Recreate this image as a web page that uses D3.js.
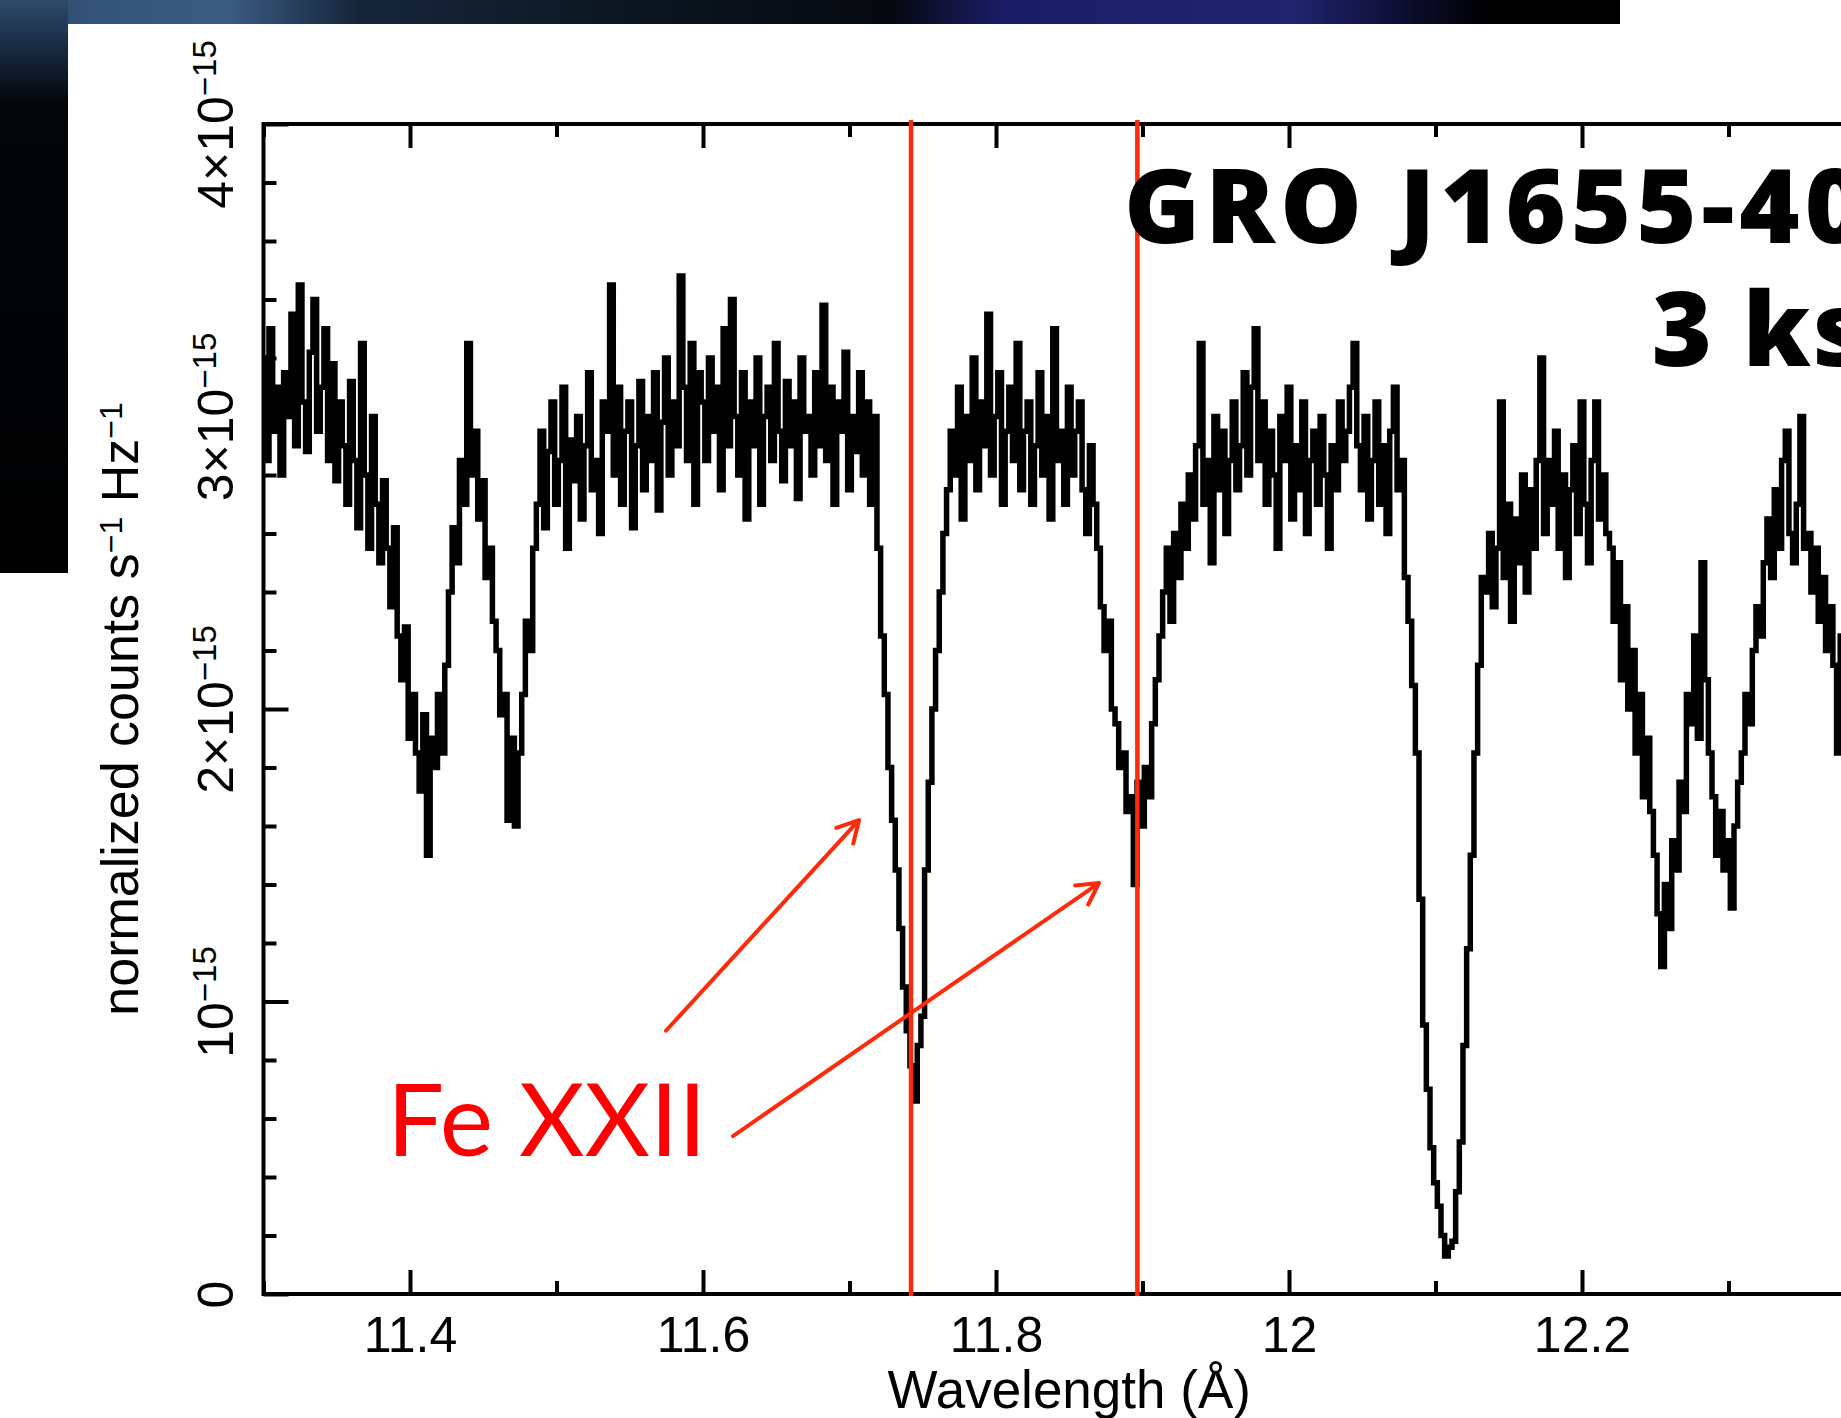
<!DOCTYPE html>
<html>
<head>
<meta charset="utf-8">
<script src="https://d3js.org/d3.v7.min.js" charset="utf-8"></script>
<title>GRO J1655-40 Fe XXII</title>
<style>
  body { margin: 0; background: #fff; }
  svg { display: block; }
</style>
</head>
<body>
<script>
var width = 1841, height = 1418;

// spectrum in units of 1e-15, one value per 0.0025 A bin starting at 11.300 A
var binStart = 11.3, binWidth = 0.0025;
var flux = [
  3.20, 2.85, 3.30, 2.95, 3.10, 2.80, 3.15, 3.00, 3.35, 2.90, 3.45, 3.05, 2.88, 3.22, 3.40, 2.95, 3.10, 3.30, 2.85, 3.18,
  2.78, 3.05, 2.90, 2.70, 3.12, 2.85, 2.62, 3.25, 2.80, 2.55, 3.00, 2.70, 2.50, 2.78,
  2.55, 2.35, 2.62, 2.25, 2.10, 2.28, 1.90, 2.05,
  1.85, 1.72, 1.98, 1.50, 1.90, 1.80, 2.05, 1.85,
  2.15, 2.40, 2.62, 2.50,
  2.85, 2.70, 3.25, 2.80, 2.95,
  2.65, 2.78, 2.45, 2.55, 2.30,
  2.20, 1.98, 2.05, 1.62, 1.90, 1.60, 1.85, 2.05,
  2.30, 2.20, 2.55, 2.70,
  2.95, 2.62, 2.88, 3.05, 2.70, 2.85, 3.10, 2.55, 2.92, 2.78, 3.00, 2.65, 2.90, 3.15, 2.75, 2.85, 2.60, 3.05, 2.95, 3.45,
  2.80, 3.10, 2.70, 2.95, 3.05, 2.62, 2.90, 3.12, 2.75, 3.00, 2.85, 3.15, 2.68, 2.98, 3.20, 2.80, 3.05, 2.90, 3.48, 3.10, 2.85, 3.25, 2.70, 3.15,
  3.05, 2.85, 3.20, 2.95, 3.10, 2.75, 3.30, 2.90, 3.40, 3.00, 2.80, 3.15, 2.65, 3.05, 2.90, 3.20, 2.70, 3.00, 3.10, 2.85, 3.25, 2.95, 2.78, 3.12,
  2.90, 3.05, 2.72, 3.20, 2.95, 3.00, 2.80, 3.15, 2.90, 3.38, 2.85, 3.10, 2.70, 3.05, 2.95, 3.22, 2.75, 3.00, 2.88, 3.15, 2.80, 3.05, 2.70, 3.00,
  2.55, 2.25, 2.05, 1.80, 1.62, 1.45, 1.25, 1.05,
  0.90, 0.78, 0.66, 0.85, 0.95,
  1.45, 1.75, 2.00, 2.20, 2.40, 2.60, 2.75, 2.95,
  2.80, 3.10, 2.65, 3.00, 2.85, 3.20, 2.75, 3.05, 2.90, 3.35, 2.80, 3.00, 3.15, 2.70, 2.95, 3.10, 2.85, 3.25, 2.75, 2.95,
  3.05, 2.70, 2.90, 3.15, 2.80, 3.00, 2.65, 3.30, 2.85, 2.95, 2.70, 3.10, 2.80, 2.95, 3.05, 2.75, 2.60, 2.90, 2.70,
  2.55, 2.35, 2.20, 2.30, 2.00, 1.95, 1.80, 1.85, 1.65, 1.70, 1.40,
  1.75, 1.60, 1.80, 1.70, 1.95, 2.10, 2.25,
  2.40, 2.55, 2.30, 2.60, 2.45, 2.70, 2.55, 2.80,
  2.65, 2.90, 3.25, 2.70, 2.85, 2.50, 3.00, 2.75, 2.95, 2.60, 2.85, 3.05, 2.75, 2.90, 3.15, 2.80, 3.10, 3.30, 2.85, 3.05,
  2.70, 2.95, 2.80, 2.55, 3.00, 2.85, 3.10, 2.65, 2.90, 2.75, 3.05, 2.60, 2.85, 2.95, 2.70, 3.00, 2.80, 2.55, 2.90, 2.75,
  3.05, 2.85, 2.95, 3.10, 3.25, 2.90, 2.75, 3.00, 2.65, 2.85, 3.05, 2.70, 2.90, 2.60, 2.95, 3.10, 2.75, 2.85,
  2.45, 2.30, 2.08, 1.85, 1.35, 0.92, 0.70, 0.50, 0.38, 0.30, 0.20, 0.13, 0.16, 0.18, 0.35, 0.52, 0.85, 1.18, 1.50, 1.85, 2.15, 2.45,
  2.40, 2.60, 2.35, 2.55, 3.05, 2.45, 2.70, 2.30, 2.65, 2.50, 2.80, 2.40, 2.75, 2.55, 2.85, 3.20, 2.60,
  2.85, 2.70, 2.95, 2.55, 2.80, 2.45, 2.75, 2.90, 2.60, 3.05, 2.70, 2.50, 2.85, 3.05, 2.65, 2.80, 2.60,
  2.55, 2.30, 2.50, 2.10, 2.35, 2.00, 2.20, 1.85, 2.05, 1.70, 1.90, 1.65,
  1.50, 1.30, 1.12, 1.40, 1.25, 1.55, 1.45,
  1.75, 1.65, 2.05,
  1.95, 2.25, 1.90, 2.50, 2.10, 1.85,
  1.70, 1.50, 1.65, 1.45, 1.55, 1.32, 1.60, 1.75,
  1.85, 2.05, 1.95, 2.20, 2.35, 2.25, 2.50,
  2.65, 2.45, 2.75, 2.55, 2.85, 2.95, 2.60, 2.50, 2.70, 3.00, 2.55,
  2.60, 2.40, 2.55, 2.30, 2.45, 2.20, 2.35, 2.15, 1.85, 2.25, 2.05, 2.15, 1.95, 2.10, 1.90, 2.05, 1.85, 2.00, 1.90
];

var xDomain = [11.3, 12.4];
var yDomain = [0, 4];
var xMajor = [11.4, 11.6, 11.8, 12.0, 12.2, 12.4];
var xLabeled = [11.4, 11.6, 11.8, 12.0, 12.2];
var xMinor = [11.3, 11.5, 11.7, 11.9, 12.1, 12.3];
var yMajor = [0, 1, 2, 3, 4];
var yMinor = [0.2, 0.4, 0.6, 0.8, 1.2, 1.4, 1.6, 1.8, 2.2, 2.4, 2.6, 2.8, 3.2, 3.4, 3.6, 3.8];
var yLabelBase = ["0", "10", "2\u00d710", "3\u00d710", "4\u00d710"];
var yLabelExp = ["", "\u221215", "\u221215", "\u221215", "\u221215"];

// Fe XXII line positions and annotation arrows (wavelength, flux)
var feLines = [11.742, 11.8965];
var arrowTail = [[11.5747, 0.90], [11.6205, 0.54]];
var arrowHead = [[11.7065, 1.62], [11.8703, 1.405]];
var feLabel = [11.3843, 0.472];

var svg = d3.select("body").append("svg")
    .attr("width", width)
    .attr("height", height);

// background pieces of the slide
var defs = svg.append("defs");
var gTop = defs.append("linearGradient").attr("id", "gTop")
    .attr("x1", 0).attr("x2", 1).attr("y1", 0).attr("y2", 0);
[[0, "#2c4360"], [0.06, "#34557a"], [0.14, "#3b5c82"], [0.22, "#16263a"],
 [0.40, "#0b1520"], [0.55, "#06080f"], [0.62, "#1a1d66"], [0.80, "#20246f"],
 [0.88, "#0a0a24"], [0.92, "#000"], [1, "#000"]].forEach(function(s) {
  gTop.append("stop").attr("offset", s[0]).attr("stop-color", s[1]);
});
var gLeft = defs.append("linearGradient").attr("id", "gLeft")
    .attr("x1", 0).attr("x2", 0).attr("y1", 0).attr("y2", 1);
[[0, "#2f4a6a"], [0.07, "#1d3048"], [0.18, "#03060a"], [1, "#000"]].forEach(function(s) {
  gLeft.append("stop").attr("offset", s[0]).attr("stop-color", s[1]);
});
svg.append("rect").attr("x", 0).attr("y", 0).attr("width", 1620).attr("height", 24).attr("fill", "url(#gTop)");
svg.append("rect").attr("x", 0).attr("y", 0).attr("width", 68).attr("height", 573).attr("fill", "url(#gLeft)");
svg.append("rect").attr("x", 68).attr("y", 24).attr("width", width - 68).attr("height", height - 24).attr("fill", "#fff");

var plotLeft = 263.5, plotTop = 124, plotBottom = 1294, pxPerA = 1465;
var x = d3.scaleLinear().domain(xDomain).range([plotLeft, plotLeft + (xDomain[1] - xDomain[0]) * pxPerA]);
var y = d3.scaleLinear().domain(yDomain).range([plotBottom, plotTop]);
var plotRight = x.range()[1];

var tickFont = "'Liberation Sans', Arial, Helvetica, sans-serif";

// spectrum
var line = d3.line()
    .x(function(d, i) { return x(binStart + i * binWidth); })
    .y(function(d) { return y(d); })
    .curve(d3.curveStep);
svg.append("path")
    .datum(flux)
    .attr("d", line)
    .attr("fill", "none")
    .attr("stroke", "#000")
    .attr("stroke-width", 5.5)
    .attr("stroke-linejoin", "miter");

// frame
svg.append("rect")
    .attr("x", plotLeft).attr("y", plotTop)
    .attr("width", plotRight - plotLeft).attr("height", plotBottom - plotTop)
    .attr("fill", "none").attr("stroke", "#000").attr("stroke-width", 4);

function styleAxis(g) {
  g.select(".domain").remove();
  g.selectAll(".tick line").attr("stroke", "#000").attr("stroke-width", 4);
}

// x axes
svg.append("g").attr("transform", "translate(0," + plotBottom + ")")
    .call(d3.axisBottom(x).tickValues(xLabeled).tickSize(-24).tickPadding(22)
      .tickFormat(function(d) { return String(+d.toFixed(1)); }))
    .call(styleAxis)
    .call(function(g) {
      g.selectAll("text").attr("font-family", tickFont).attr("font-size", 50).attr("fill", "#000");
    });
svg.append("g").attr("transform", "translate(0," + plotBottom + ")")
    .call(d3.axisBottom(x).tickValues(xMinor).tickSize(-13).tickFormat(""))
    .call(styleAxis);
svg.append("g").attr("transform", "translate(0," + plotTop + ")")
    .call(d3.axisTop(x).tickValues(xMajor).tickSize(-24).tickFormat(""))
    .call(styleAxis);
svg.append("g").attr("transform", "translate(0," + plotTop + ")")
    .call(d3.axisTop(x).tickValues(xMinor).tickSize(-13).tickFormat(""))
    .call(styleAxis);

// y axes
var yAxisG = svg.append("g").attr("transform", "translate(" + plotLeft + ",0)")
    .call(d3.axisLeft(y).tickValues(yMajor).tickSize(-25).tickFormat(""))
    .call(styleAxis);
svg.append("g").attr("transform", "translate(" + plotLeft + ",0)")
    .call(d3.axisLeft(y).tickValues(yMinor).tickSize(-13).tickFormat(""))
    .call(styleAxis);
svg.append("g").attr("transform", "translate(" + plotRight + ",0)")
    .call(d3.axisRight(y).tickValues(yMajor).tickSize(-25).tickFormat(""))
    .call(styleAxis);

yAxisG.selectAll(".tick").each(function(d, i) {
  var t = d3.select(this).append("text")
      .attr("transform", "translate(-31,0) rotate(-90)")
      .attr("text-anchor", "middle")
      .attr("font-family", tickFont)
      .attr("font-size", 50)
      .attr("fill", "#000");
  t.append("tspan").text(yLabelBase[i]);
  if (yLabelExp[i]) t.append("tspan").attr("dy", -17).attr("font-size", 33).text(yLabelExp[i]);
});

// axis titles
svg.append("text")
    .attr("x", x((xDomain[0] + xDomain[1]) / 2))
    .attr("y", 1408)
    .attr("text-anchor", "middle")
    .attr("font-family", tickFont)
    .attr("font-size", 53)
    .attr("fill", "#000")
    .text("Wavelength (\u00c5)");

var yt = svg.append("text")
    .attr("transform", "translate(138," + ((plotTop + plotBottom) / 2) + ") rotate(-90)")
    .attr("text-anchor", "middle")
    .attr("font-family", tickFont)
    .attr("font-size", 52)
    .attr("fill", "#000");
yt.append("tspan").text("normalized counts s");
yt.append("tspan").attr("dy", -16).attr("font-size", 32).text("\u22121");
yt.append("tspan").attr("dy", 16).text(" Hz");
yt.append("tspan").attr("dy", -16).attr("font-size", 32).text("\u22121");

// Fe XXII marker lines
svg.selectAll(".feline").data(feLines).enter().append("line")
    .attr("class", "feline")
    .attr("x1", function(d) { return x(d); })
    .attr("x2", function(d) { return x(d); })
    .attr("y1", y(yDomain[1]) - 4)
    .attr("y2", y(0) + 2)
    .attr("stroke", "#ff2a0a")
    .attr("stroke-width", 4.5);

// arrows
arrowTail.forEach(function(t, i) {
  var x1 = x(t[0]), y1 = y(t[1]);
  var x2 = x(arrowHead[i][0]), y2 = y(arrowHead[i][1]);
  var a = Math.atan2(y2 - y1, x2 - x1), len = 24, spread = 0.5;
  var p = "M" + x1 + "," + y1 + "L" + x2 + "," + y2 +
    "M" + (x2 - len * Math.cos(a - spread)) + "," + (y2 - len * Math.sin(a - spread)) +
    "L" + x2 + "," + y2 +
    "L" + (x2 - len * Math.cos(a + spread)) + "," + (y2 - len * Math.sin(a + spread));
  svg.append("path").attr("d", p)
      .attr("fill", "none")
      .attr("stroke", "#ff2a0a")
      .attr("stroke-width", 4)
      .attr("stroke-linecap", "round")
      .attr("stroke-linejoin", "round");
});

svg.append("text")
    .attr("x", x(feLabel[0]))
    .attr("y", y(feLabel[1]))
    .attr("font-family", "Lato, 'Open Sans', sans-serif")
    .attr("font-size", 101)
    .attr("fill", "#ff0000")
    .text("Fe XXII");

// title
var titleFont = "'Open Sans', Lato, sans-serif";
svg.append("text")
    .attr("x", 1870).attr("y", 243)
    .attr("text-anchor", "end")
    .attr("font-family", titleFont)
    .attr("font-weight", 800)
    .attr("font-size", 103)
    .attr("letter-spacing", 5)
    .attr("fill", "#000")
    .text("GRO J1655-40");
svg.append("text")
    .attr("x", 1868).attr("y", 366)
    .attr("text-anchor", "end")
    .attr("font-family", titleFont)
    .attr("font-weight", 800)
    .attr("font-size", 103)
    .attr("letter-spacing", 2)
    .attr("fill", "#000")
    .text("3 ks");
</script>
</body>
</html>
